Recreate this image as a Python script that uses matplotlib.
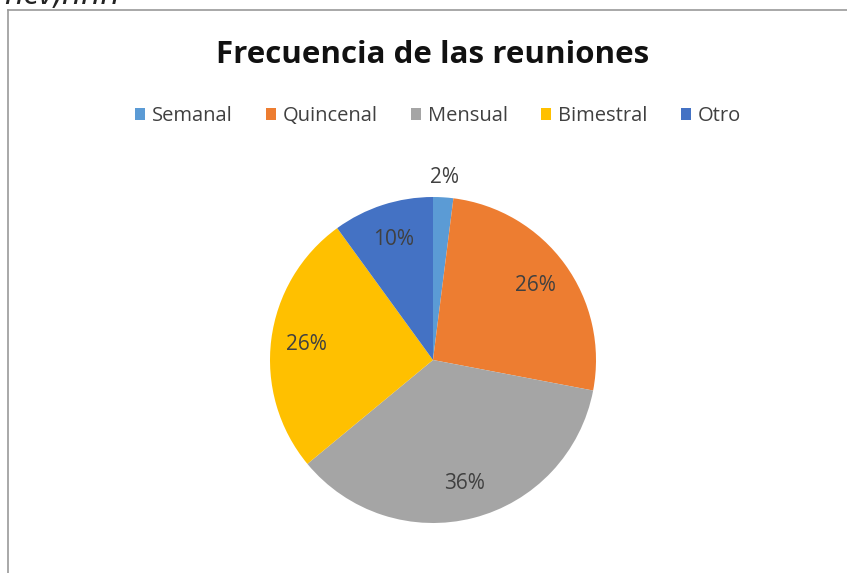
import matplotlib.pyplot as plt

# ------------------------------
# Data
# ------------------------------
categories = ["Semanal", "Quincenal", "Mensual", "Bimestral", "Otro"]
values = [2, 26, 36, 26, 10]
colors = ["#5B9BD5", "#ED7D31", "#A5A5A5", "#FFC000", "#4472C4"]
title = "Frecuencia de las reuniones"

plt.rcParams['font.family'] = ['Open Sans', 'DejaVu Sans']

W, H = 847, 573
fig = plt.figure(figsize=(W / 100, H / 100), dpi=100)

# chart frame (left + top border, as in the screenshot)
fig.add_artist(plt.Line2D([8 / W, 8 / W], [0, 1 - 10 / H], transform=fig.transFigure,
                          color="#9a9a9a", lw=1.2))
fig.add_artist(plt.Line2D([8 / W, 1], [1 - 10 / H, 1 - 10 / H], transform=fig.transFigure,
                          color="#9a9a9a", lw=1.2))
# cropped text left over at the top of the screenshot
fig.text(4 / W, 1 + 4 / H, "ncv,nnn", fontsize=24, color="#222222", style="italic",
         va="center", ha="left")

fig.text(433 / W, 1 - 55 / H, title, fontsize=22.5, fontweight="bold",
         color="#111111", ha="center", va="center")

# pie axes: center (433, 360) px, radius 163 px
cx, cy, r = 433, 360, 163
ax = fig.add_axes([(cx - r) / W, (H - cy - r) / H, 2 * r / W, 2 * r / H])
wedges, texts, autotexts = ax.pie(values, colors=colors, startangle=90, counterclock=False,
                                  autopct="%1.0f%%", pctdistance=0.78,
                                  textprops=dict(fontsize=15, color="#404040"))
ax.set_xlim(-1, 1)
ax.set_ylim(-1, 1)
ax.set_aspect("equal")
# small slice label sits outside the pie
x, y = autotexts[0].get_position()
autotexts[0].set_position((x / 0.78 * 1.12, y / 0.78 * 1.12))

fig.legend(wedges, categories, loc="center", bbox_to_anchor=(438 / W, 1 - 116 / H),
           ncol=5, frameon=False, fontsize=14.5, handlelength=0.5, handleheight=0.5,
           handletextpad=0.35, columnspacing=1.65, labelcolor="#404040")

fig.savefig("out.png", dpi=100)
